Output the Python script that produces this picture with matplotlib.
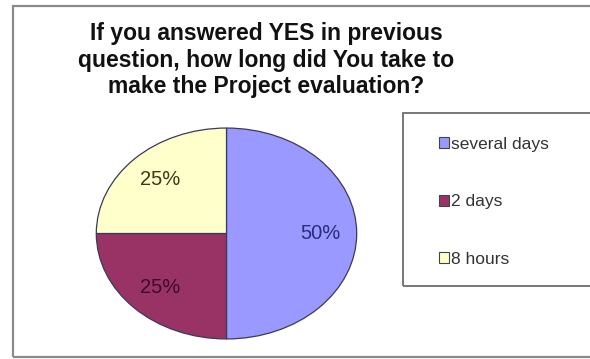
import matplotlib.pyplot as plt
from matplotlib.patches import Rectangle, Patch

plt.rcParams['font.family'] = ['Liberation Sans', 'DejaVu Sans']

# respostas da pergunta
categorias = ['several days', '2 days', '8 hours']
valores = [50, 25, 25]
cores = ['#9999FF', '#993366', '#FFFFCC']
cores_texto = ['#2B2B80', '#3A0A2A', '#3A3A1A']

titulo = ('If you answered YES in previous\n'
          'question, how long did You take to\n'
          'make the Project evaluation?')

fig = plt.figure(figsize=(5.9, 3.59), dpi=100)

# moldura do grafico (sai pela direita)
fig.patches.append(Rectangle((13 / 590, 1 - 357 / 359), 1.2, (357 - 6) / 359,
                             transform=fig.transFigure, fill=False,
                             edgecolor='#8a8a8a', linewidth=1.6))

fig.text(266 / 590, 1 - 60 / 359, titulo, ha='center', va='center',
         fontsize=16.5, fontweight='bold', linespacing=1.2, color='#111111')

# pizza eliptica
ax = fig.add_axes([95 / 590, 1 - 340 / 359, 263 / 590, 213 / 359])
fatias, textos, pcts = ax.pie(valores, colors=cores, startangle=90,
                              counterclock=False, autopct='%1.0f%%',
                              pctdistance=0.72,
                              wedgeprops={'edgecolor': '#3a3a5a', 'linewidth': 0.9},
                              textprops={'fontsize': 14.5})
for t, c in zip(pcts, cores_texto):
    t.set_color(c)
ax.set_aspect('auto')
ax.set_xlim(-1.01, 1.01)
ax.set_ylim(-1.01, 1.01)

# caixa da legenda
fig.patches.append(Rectangle((403 / 590, 1 - 286 / 359), 0.5, (286 - 113) / 359,
                             transform=fig.transFigure, fill=False,
                             edgecolor='#777777', linewidth=1.4))

alcas = [Patch(facecolor=c, edgecolor='#444444', linewidth=0.8) for c in cores]
leg = fig.legend(alcas, categorias, loc='upper left',
                 bbox_to_anchor=(430 / 590, 1 - 128 / 359), frameon=False,
                 fontsize=12.5, handlelength=0.6, handleheight=0.6,
                 handletextpad=0.1, labelspacing=2.45, borderpad=0)
for t in leg.get_texts():
    t.set_color('#333333')

fig.savefig('out.png', dpi=100)
